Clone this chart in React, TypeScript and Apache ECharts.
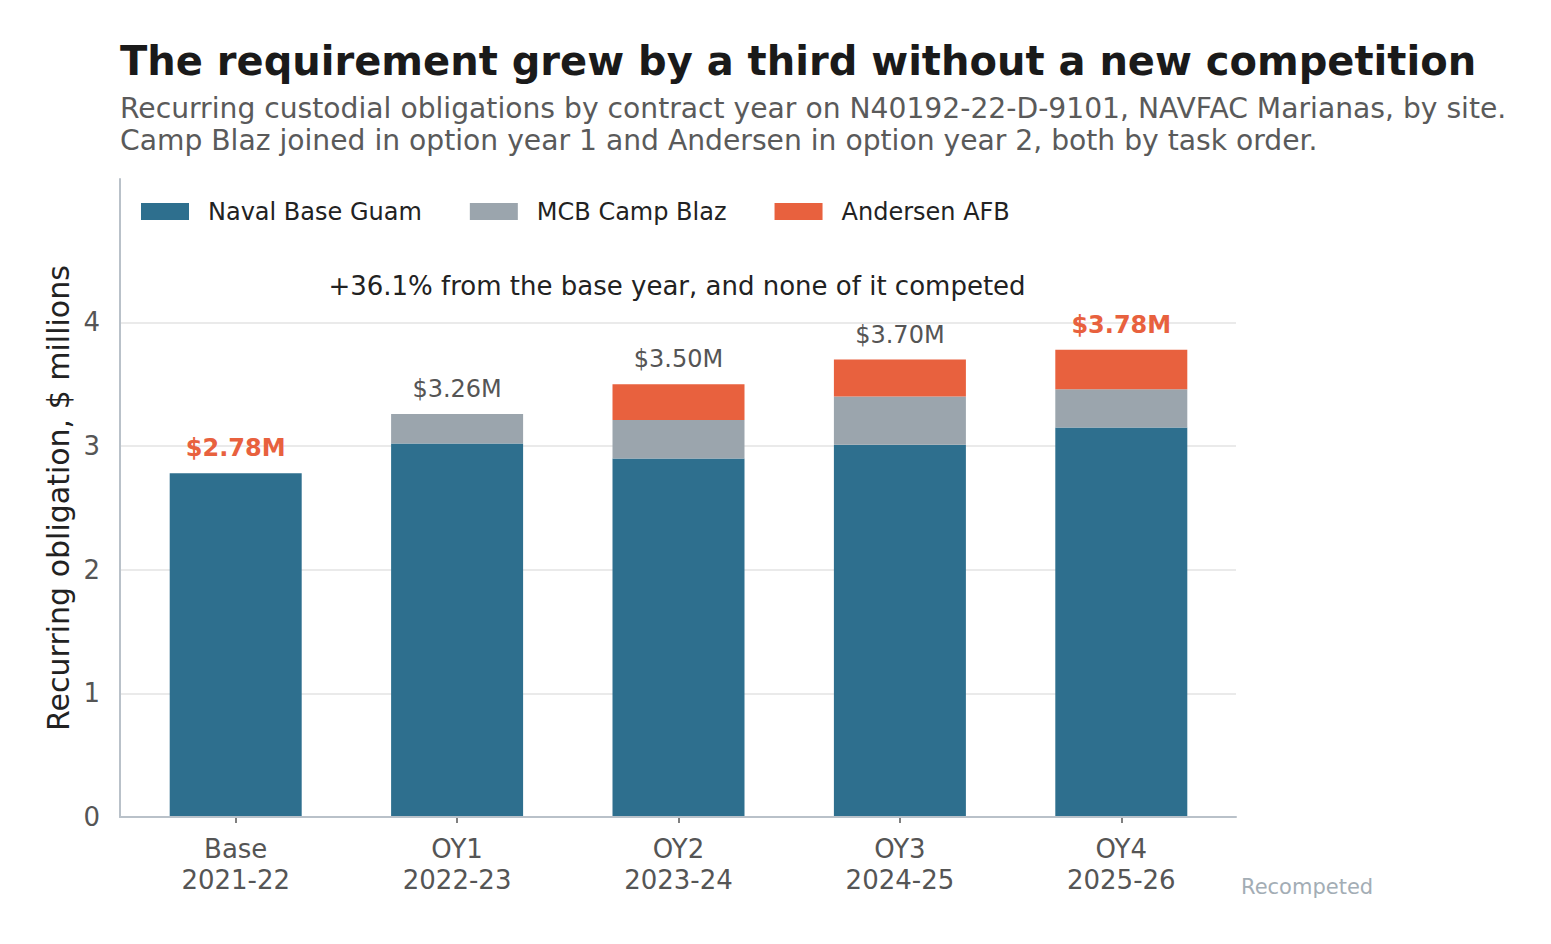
import React, { useEffect, useRef } from "react";
import * as echarts from "echarts";

// ---- data ----
const categories = ["Base", "OY1", "OY2", "OY3", "OY4"];
const contractYears = ["2021-22", "2022-23", "2023-24", "2024-25", "2025-26"];
const navalBaseGuam = [2.78, 3.02, 2.9, 3.01, 3.15];
const mcbCampBlaz = [0, 0.24, 0.31, 0.39, 0.31];
const andersenAfb = [0, 0, 0.29, 0.3, 0.32];
const emphasized = [true, false, false, false, true];
const yTickValues = [0, 1, 2, 3, 4];
const yAxisMax = 5.16;

const titleText = "The requirement grew by a third without a new competition";
const subtitleText =
  "Recurring custodial obligations by contract year on N40192-22-D-9101, NAVFAC Marianas, by site.\nCamp Blaz joined in option year 1 and Andersen in option year 2, both by task order.";
const annotationText = "+36.1% from the base year, and none of it competed";
const footText = "Recompeted";

const FONT = '"DejaVu Sans", "Liberation Sans", sans-serif';
const C_NAVAL = "#2e6f8e";
const C_CAMP = "#9ba5ad";
const C_AND = "#e8613e";

export default function App() {
  const ref = useRef<HTMLDivElement>(null);

  useEffect(() => {
    if (!ref.current) return;
    const chart = echarts.init(ref.current, undefined, { renderer: "svg" });

    const totals = navalBaseGuam.map(
      (v, i) => Math.round((v + mcbCampBlaz[i] + andersenAfb[i]) * 100) / 100
    );
    const labels = categories.map((c, i) => c + "\n" + contractYears[i]);

    const plotTop = 179;
    const plotBottom = 127;
    const plotBottomY = 944 - plotBottom;
    const tickMax = yTickValues[yTickValues.length - 1];
    const tickGridTop =
      plotTop + ((plotBottomY - plotTop) * (yAxisMax - tickMax)) / yAxisMax;

    const option: any = {
      animation: false,
      backgroundColor: "#ffffff",
      textStyle: { fontFamily: FONT },
      graphic: [
        {
          type: "text",
          left: 120,
          top: 41,
          style: { text: titleText, font: `bold 40px ${FONT}`, fill: "#1a1a1a" },
        },
        {
          type: "text",
          left: 120,
          top: 92,
          style: {
            text: subtitleText,
            font: `28.2px ${FONT}`,
            fill: "#5a5a5a",
            lineHeight: 32,
          },
        },
        {
          type: "text",
          x: 677,
          y: 286,
          style: {
            text: annotationText,
            font: `26px ${FONT}`,
            fill: "#222222",
            align: "center",
            verticalAlign: "middle",
          },
        },
        {
          type: "text",
          x: 1241,
          y: 887,
          style: {
            text: footText,
            font: `21px ${FONT}`,
            fill: "#a3adb5",
            align: "left",
            verticalAlign: "middle",
          },
        },
      ],
      legend: {
        left: 141,
        top: 199.5,
        orient: "horizontal",
        icon: "rect",
        itemWidth: 48,
        itemHeight: 17,
        itemGap: 48,
        padding: 0,
        textStyle: {
          fontFamily: FONT,
          fontSize: 24,
          color: "#222222",
          lineHeight: 24,
          padding: [0, 0, 0, 14],
        },
        data: ["Naval Base Guam", "MCB Camp Blaz", "Andersen AFB"],
      },
      grid: [
        { left: 120, right: 315, top: plotTop, bottom: plotBottom },
        { left: 120, right: 315, top: tickGridTop, bottom: plotBottom },
        { left: 125, right: 319, top: plotTop, bottom: plotBottom },
      ],
      xAxis: [
        {
          type: "value",
          gridIndex: 0,
          min: 0,
          max: 1,
          z: 10,
          axisLine: { show: true, lineStyle: { color: "#b9c1c9", width: 2 } },
          axisTick: { show: false },
          axisLabel: { show: false },
          splitLine: { show: false },
        },
        {
          type: "value",
          gridIndex: 1,
          min: 0,
          max: 1,
          show: false,
        },
        {
          type: "category",
          gridIndex: 2,
          data: labels,
          axisLine: { show: false },
          axisTick: {
            show: true,
            alignWithLabel: true,
            length: 6,
            lineStyle: { color: "#555555", width: 1.5 },
          },
          axisLabel: {
            fontFamily: FONT,
            fontSize: 26,
            color: "#555555",
            lineHeight: 31,
            margin: 16,
          },
          splitLine: { show: false },
        },
      ],
      yAxis: [
        {
          type: "value",
          gridIndex: 0,
          min: 0,
          max: yAxisMax,
          z: 10,
          name: "Recurring obligation, $ millions",
          nameLocation: "middle",
          nameGap: 47,
          nameTextStyle: { fontFamily: FONT, fontSize: 30, color: "#222222" },
          axisLine: { show: true, lineStyle: { color: "#b9c1c9", width: 2 } },
          axisTick: { show: false },
          axisLabel: { show: false },
          splitLine: { show: false },
        },
        {
          type: "value",
          gridIndex: 1,
          min: yTickValues[0],
          max: tickMax,
          interval: 1,
          axisLine: { show: false },
          axisTick: { show: false },
          axisLabel: {
            fontFamily: FONT,
            fontSize: 26,
            color: "#555555",
            margin: 20,
          },
          splitLine: { show: true, lineStyle: { color: "#e3e3e3", width: 1.5 } },
        },
        {
          type: "value",
          gridIndex: 2,
          min: 0,
          max: yAxisMax,
          show: false,
        },
      ],
      series: [
        {
          name: "Naval Base Guam",
          type: "bar",
          stack: "total",
          xAxisIndex: 2,
          yAxisIndex: 2,
          barWidth: 132,
          itemStyle: { color: C_NAVAL },
          data: navalBaseGuam,
        },
        {
          name: "MCB Camp Blaz",
          type: "bar",
          stack: "total",
          xAxisIndex: 2,
          yAxisIndex: 2,
          barWidth: 132,
          itemStyle: { color: C_CAMP },
          data: mcbCampBlaz,
        },
        {
          name: "Andersen AFB",
          type: "bar",
          stack: "total",
          xAxisIndex: 2,
          yAxisIndex: 2,
          barWidth: 132,
          itemStyle: { color: C_AND },
          data: andersenAfb,
        },
        {
          name: "totals",
          type: "scatter",
          xAxisIndex: 2,
          yAxisIndex: 2,
          symbolSize: 0,
          silent: true,
          z: 5,
          itemStyle: { opacity: 1 },
          data: totals.map((v, i) => ({
            value: v,
            label: {
              show: true,
              position: "top",
              distance: 13,
              opacity: 1,
              formatter: "$" + v.toFixed(2) + "M",
              fontFamily: FONT,
              fontSize: 24,
              color: emphasized[i] ? C_AND : "#555555",
              fontWeight: emphasized[i] ? "bold" : "normal",
            },
          })),
        },
      ],
    };

    chart.setOption(option);
    return () => chart.dispose();
  }, []);

  return (
    <div
      ref={ref}
      style={{
        position: "fixed",
        left: 0,
        top: 0,
        width: "1551px",
        height: "944px",
        background: "#ffffff",
      }}
    />
  );
}
